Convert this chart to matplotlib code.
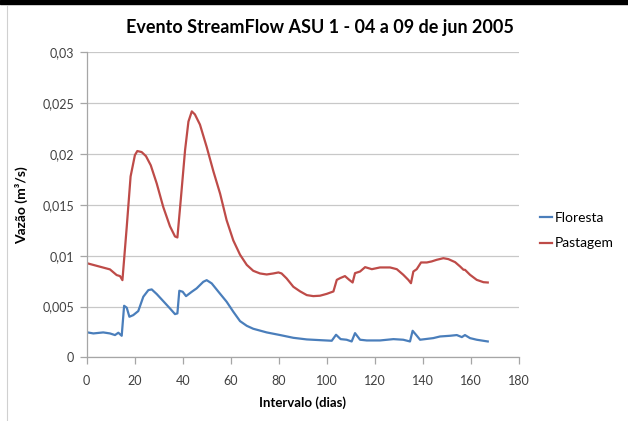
import matplotlib.pyplot as plt
from matplotlib.lines import Line2D
from matplotlib.patches import Rectangle
from matplotlib.ticker import FuncFormatter

plt.rcParams['font.family'] = ['Lato', 'DejaVu Sans']

# Floresta series (interval in days, flow in m3/s)
x_floresta = [0.4, 2.8, 6.9, 9.7, 11.8, 13.2, 14.6, 15.6, 16.7, 17.8, 19.4,
              21.5, 23.6, 25.7, 27.1, 29.2, 31.9, 34.7, 36.8, 37.8, 38.6,
              40.0, 41.4, 43.8, 45.8, 48.6, 50.0, 52.1, 54.9, 58.3, 61.1,
              63.9, 66.7, 69.4, 75.0, 80.6, 86.1, 91.7, 97.2, 102.1, 103.9,
              105.8, 108.3, 110.4, 111.8, 113.9, 116.7, 122.2, 127.8, 131.9,
              134.7, 135.8, 137.2, 138.9, 144.4, 147.2, 151.4, 154.2, 156.3,
              157.6, 159.7, 162.5, 167.1]
y_floresta = [0.00246, 0.00236, 0.00246, 0.00236, 0.00220, 0.00243, 0.00213,
              0.00508, 0.00489, 0.00400, 0.00416, 0.00456, 0.00597, 0.00662,
              0.00669, 0.00623, 0.00554, 0.00482, 0.00426, 0.00433, 0.00656,
              0.00646, 0.00603, 0.00646, 0.00679, 0.00744, 0.00760, 0.00728,
              0.00646, 0.00548, 0.00449, 0.00357, 0.00311, 0.00282, 0.00246,
              0.00220, 0.00193, 0.00177, 0.00170, 0.00164, 0.00223, 0.00180,
              0.00174, 0.00157, 0.00239, 0.00174, 0.00167, 0.00167, 0.00180,
              0.00174, 0.00157, 0.00262, 0.00223, 0.00174, 0.00190, 0.00206,
              0.00213, 0.00220, 0.00200, 0.00220, 0.00190, 0.00174, 0.00157]

# Pastagem series
x_pastagem = [0.4, 5.6, 9.7, 12.5, 13.9, 14.9, 16.7, 18.3, 20.1, 21.1, 22.9,
              24.7, 26.7, 29.2, 31.9, 34.7, 36.8, 37.8, 39.2, 41.0, 42.4,
              43.8, 45.1, 47.2, 50.0, 52.8, 55.6, 58.3, 61.1, 63.9, 66.7,
              69.4, 72.2, 75.0, 77.8, 79.9, 81.2, 83.3, 86.1, 88.9, 91.7,
              94.4, 97.2, 100.0, 102.8, 104.2, 105.6, 107.6, 109.4, 110.8,
              111.8, 113.9, 116.0, 118.8, 122.2, 126.4, 129.2, 131.9, 134.0,
              135.1, 136.1, 137.5, 139.3, 141.7, 143.7, 145.8, 148.6, 150.7,
              153.5, 155.6, 157.0, 157.6, 159.7, 162.5, 165.3, 167.1]
y_pastagem = [0.00925, 0.00892, 0.00866, 0.00810, 0.00800, 0.00760, 0.01285,
              0.01780, 0.01990, 0.02030, 0.02020, 0.01980, 0.01890, 0.01710,
              0.01480, 0.01290, 0.01190, 0.01180, 0.01550, 0.02040, 0.02320,
              0.02420, 0.02390, 0.02290, 0.02070, 0.01830, 0.01610, 0.01350,
              0.01150, 0.01010, 0.00910, 0.00852, 0.00826, 0.00816, 0.00826,
              0.00836, 0.00826, 0.00777, 0.00695, 0.00650, 0.00613, 0.00603,
              0.00607, 0.00625, 0.00649, 0.00763, 0.00780, 0.00800, 0.00763,
              0.00737, 0.00829, 0.00845, 0.00888, 0.00868, 0.00885, 0.00885,
              0.00868, 0.00813, 0.00763, 0.00730, 0.00845, 0.00868, 0.00934,
              0.00934, 0.00944, 0.00960, 0.00976, 0.00967, 0.00937, 0.00894,
              0.00862, 0.00862, 0.00813, 0.00763, 0.00740, 0.00737]

x_ticks = [0, 20, 40, 60, 80, 100, 120, 140, 160, 180]
y_ticks = [0, 0.005, 0.01, 0.015, 0.02, 0.025, 0.03]

blue = '#4a7ebb'
red = '#be4b48'
grid_col = '#c8c8c8'
text_col = '#404040'

fig = plt.figure(figsize=(6.28, 4.21), dpi=100)
ax = fig.add_axes([0.138, 0.151, 0.688, 0.7245])

ax.plot(x_floresta, y_floresta, color=blue, lw=1.6, label='Floresta')
ax.plot(x_pastagem, y_pastagem, color=red, lw=1.6, label='Pastagem')

ax.set_xlim(0, 180)
ax.set_ylim(0, 0.03)
ax.set_xticks(x_ticks)
ax.set_yticks(y_ticks)

def virgula(v, pos):
    if v == 0:
        return '0'
    return ('%g' % round(v, 4)).replace('.', ',')

ax.yaxis.set_major_formatter(FuncFormatter(virgula))
ax.grid(axis='y', color=grid_col, lw=0.9)
ax.set_axisbelow(True)
for side in ['top', 'right']:
    ax.spines[side].set_visible(False)
for side in ['left', 'bottom']:
    ax.spines[side].set_color('#a6a6a6')
    ax.spines[side].set_linewidth(0.9)
ax.tick_params(axis='both', colors='#a6a6a6', labelcolor=text_col,
               labelsize=9, length=5, width=0.9)
ax.tick_params(axis='x', pad=8)
ax.tick_params(axis='y', pad=4)

fig.text(0.51, 0.935, 'Evento StreamFlow ASU 1 - 04 a 09 de jun 2005',
         fontsize=13, fontweight='bold', color='black',
         ha='center', va='center')
ax.set_xlabel('Intervalo (dias)', fontsize=9.5, fontweight='bold',
              color='black', labelpad=6)
ax.set_ylabel('Vazão (m³/s)', fontsize=10, fontweight='bold',
              color='black', labelpad=10)

leg = ax.legend(loc='center left', bbox_to_anchor=(1.02, 0.416),
                frameon=False, fontsize=10, handlelength=0.9,
                handletextpad=0.2, labelspacing=1.0)
for t in leg.get_texts():
    t.set_color('black')

# black band at the top and the thin frame on the left
fig.patches.append(Rectangle((0, 0.99), 1, 0.01, transform=fig.transFigure,
                             color='black', zorder=5))
fig.lines.append(Line2D([0.0115, 0.0115], [0, 0.985], transform=fig.transFigure,
                        color='#d0d0d0', lw=0.8))

fig.savefig('out.png', dpi=100)
